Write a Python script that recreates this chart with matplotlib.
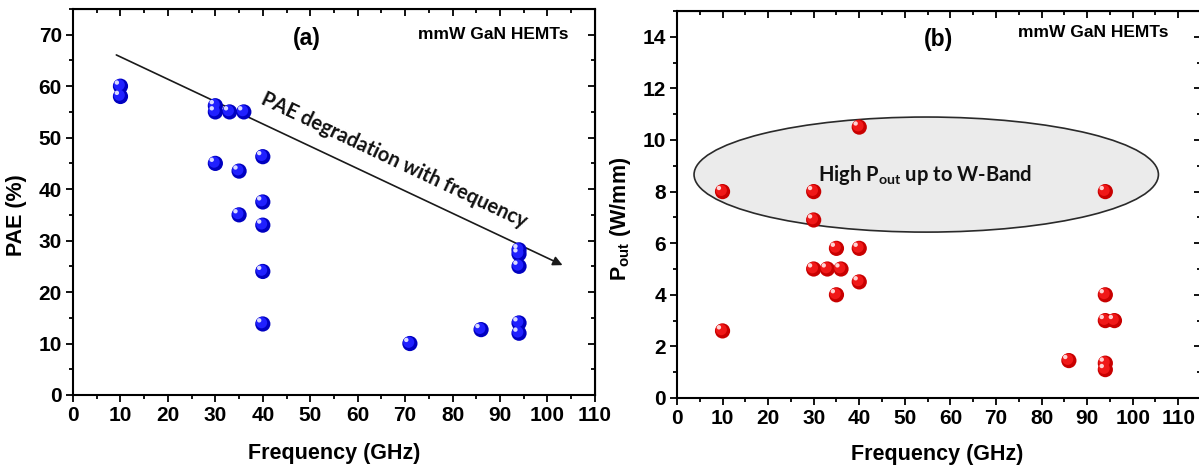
import matplotlib
matplotlib.use("Agg")
import matplotlib.pyplot as plt
from matplotlib.patches import Ellipse
from matplotlib.transforms import ScaledTranslation
from matplotlib.ticker import MultipleLocator

# PAE vs frequency, panel (a)
pae_freq = [10, 10, 30, 30, 33, 36, 30, 35, 35, 40, 40, 40, 40, 40, 71, 86, 94, 94, 94, 94, 94]
pae_vals = [60, 58, 56.2, 55, 55, 55, 45, 43.5, 35, 46.3, 37.5, 33, 24, 13.8, 10, 12.7, 28.2, 27.4, 25, 14, 12]

# Pout vs frequency, panel (b)
pout_freq = [10, 10, 30, 30, 30, 33, 36, 35, 35, 40, 40, 40, 86, 94, 94, 94, 96, 94, 94]
pout_vals = [8, 2.6, 8, 6.9, 5, 5, 5, 5.8, 4, 10.5, 5.8, 4.5, 1.45, 8, 4, 3, 3, 1.35, 1.1]

plt.rcParams['font.family'] = ['Liberation Sans', 'DejaVu Sans']
plt.rcParams['mathtext.fontset'] = 'custom'
plt.rcParams['mathtext.rm'] = 'Lato:bold'
plt.rcParams['mathtext.bf'] = 'Liberation Sans:bold'

fig = plt.figure(figsize=(11.99, 4.70), dpi=100)
ax1 = fig.add_axes([0.0609, 0.1596, 0.4353, 0.8213])
ax2 = fig.add_axes([0.5646, 0.1532, 0.4371, 0.8234])


def style_axis(ax, ymajor, yminor):
    ax.xaxis.set_major_locator(MultipleLocator(10))
    ax.xaxis.set_minor_locator(MultipleLocator(5))
    ax.yaxis.set_major_locator(MultipleLocator(ymajor))
    ax.yaxis.set_minor_locator(MultipleLocator(yminor))
    for s in ax.spines.values():
        s.set_linewidth(1.5)
    ax.tick_params(which='both', direction='out', width=1.3, labelsize=15, pad=3)
    ax.tick_params(which='major', length=5)
    ax.tick_params(which='minor', length=3)
    for lab in ax.get_xticklabels() + ax.get_yticklabels():
        lab.set_fontweight('bold')
    # mirrored inward ticks on top and right
    top = ax.secondary_xaxis('top')
    top.xaxis.set_major_locator(MultipleLocator(10))
    top.xaxis.set_minor_locator(MultipleLocator(5))
    top.tick_params(which='both', direction='in', width=1.3, labeltop=False)
    top.tick_params(which='major', length=5)
    top.tick_params(which='minor', length=3)
    right = ax.secondary_yaxis('right')
    right.yaxis.set_major_locator(MultipleLocator(ymajor))
    right.yaxis.set_minor_locator(MultipleLocator(yminor))
    right.tick_params(which='both', direction='in', width=1.3, labelright=False)
    right.tick_params(which='major', length=5)
    right.tick_params(which='minor', length=3)


def balls(ax, x, y, base, mid, light):
    # fake 3D sphere: dark base, lighter core, small white highlight
    off1 = ax.transData + ScaledTranslation(-0.9 / 72, 0.9 / 72, fig.dpi_scale_trans)
    off2 = ax.transData + ScaledTranslation(-2.6 / 72, 2.6 / 72, fig.dpi_scale_trans)
    ax.scatter(x, y, s=120, color=base, edgecolors='none', zorder=5)
    ax.scatter(x, y, s=65, color=mid, edgecolors='none', zorder=6, transform=off1)
    ax.scatter(x, y, s=10, color=light, edgecolors='none', zorder=7, transform=off2)


# panel (a)
ax1.set_xlim(0, 110)
ax1.set_ylim(0, 75)
style_axis(ax1, 10, 5)
balls(ax1, pae_freq, pae_vals, '#0000c0', '#2020ff', '#dcdcff')
ax1.annotate('', xy=(103.7, 25.0), xytext=(8.6, 66.3),
             arrowprops=dict(arrowstyle='-|>', color='#1a1a1a', lw=1.2, mutation_scale=14))
ax1.text(67.6, 45.6, 'PAE degradation with frequency', rotation=-25.3, rotation_mode='anchor',
         ha='center', va='center', fontsize=14.5, fontweight='bold',
         family=['Lato', 'DejaVu Sans'], color='#111111')
ax1.text(49.3, 69.2, '(a)', ha='center', va='center', fontsize=16.5, fontweight='bold')
ax1.text(72.7, 70.0, 'mmW GaN HEMTs', ha='left', va='center', fontsize=12.5, fontweight='bold')
ax1.set_xlabel('Frequency (GHz)', fontsize=15.5, fontweight='bold')
ax1.set_ylabel('PAE (%)', fontsize=15.5, fontweight='bold')
ax1.xaxis.set_label_coords(0.501, -0.125)
ax1.yaxis.set_label_coords(-0.088, 0.466)

# panel (b)
ax2.set_xlim(0, 115)
ax2.set_ylim(0, 15)
style_axis(ax2, 2, 1)
ax2.add_patch(Ellipse((54.7, 8.66), 101.9, 4.46, facecolor='#ebebeb', edgecolor='#2a2a2a',
                      lw=1.2, zorder=3))
balls(ax2, pout_freq, pout_vals, '#c80000', '#f01818', '#ffd4d4')
ax2.text(54.5, 8.64, r'High P$_{\mathrm{out}}$ up to W-Band', ha='center', va='center',
         fontsize=14.5, fontweight='bold', family=['Lato', 'DejaVu Sans'], color='#111111', zorder=4)
ax2.text(57.3, 13.9, '(b)', ha='center', va='center', fontsize=16.5, fontweight='bold')
ax2.text(74.9, 14.15, 'mmW GaN HEMTs', ha='left', va='center', fontsize=12.5, fontweight='bold')
ax2.set_xlabel('Frequency (GHz)', fontsize=15.5, fontweight='bold')
ax2.set_ylabel(r'$\mathbf{P_{out}}$ (W/mm)', fontsize=15.5, fontweight='bold')
ax2.xaxis.set_label_coords(0.497, -0.12)
ax2.yaxis.set_label_coords(-0.083, 0.463)

fig.savefig('out.png', dpi=100)
